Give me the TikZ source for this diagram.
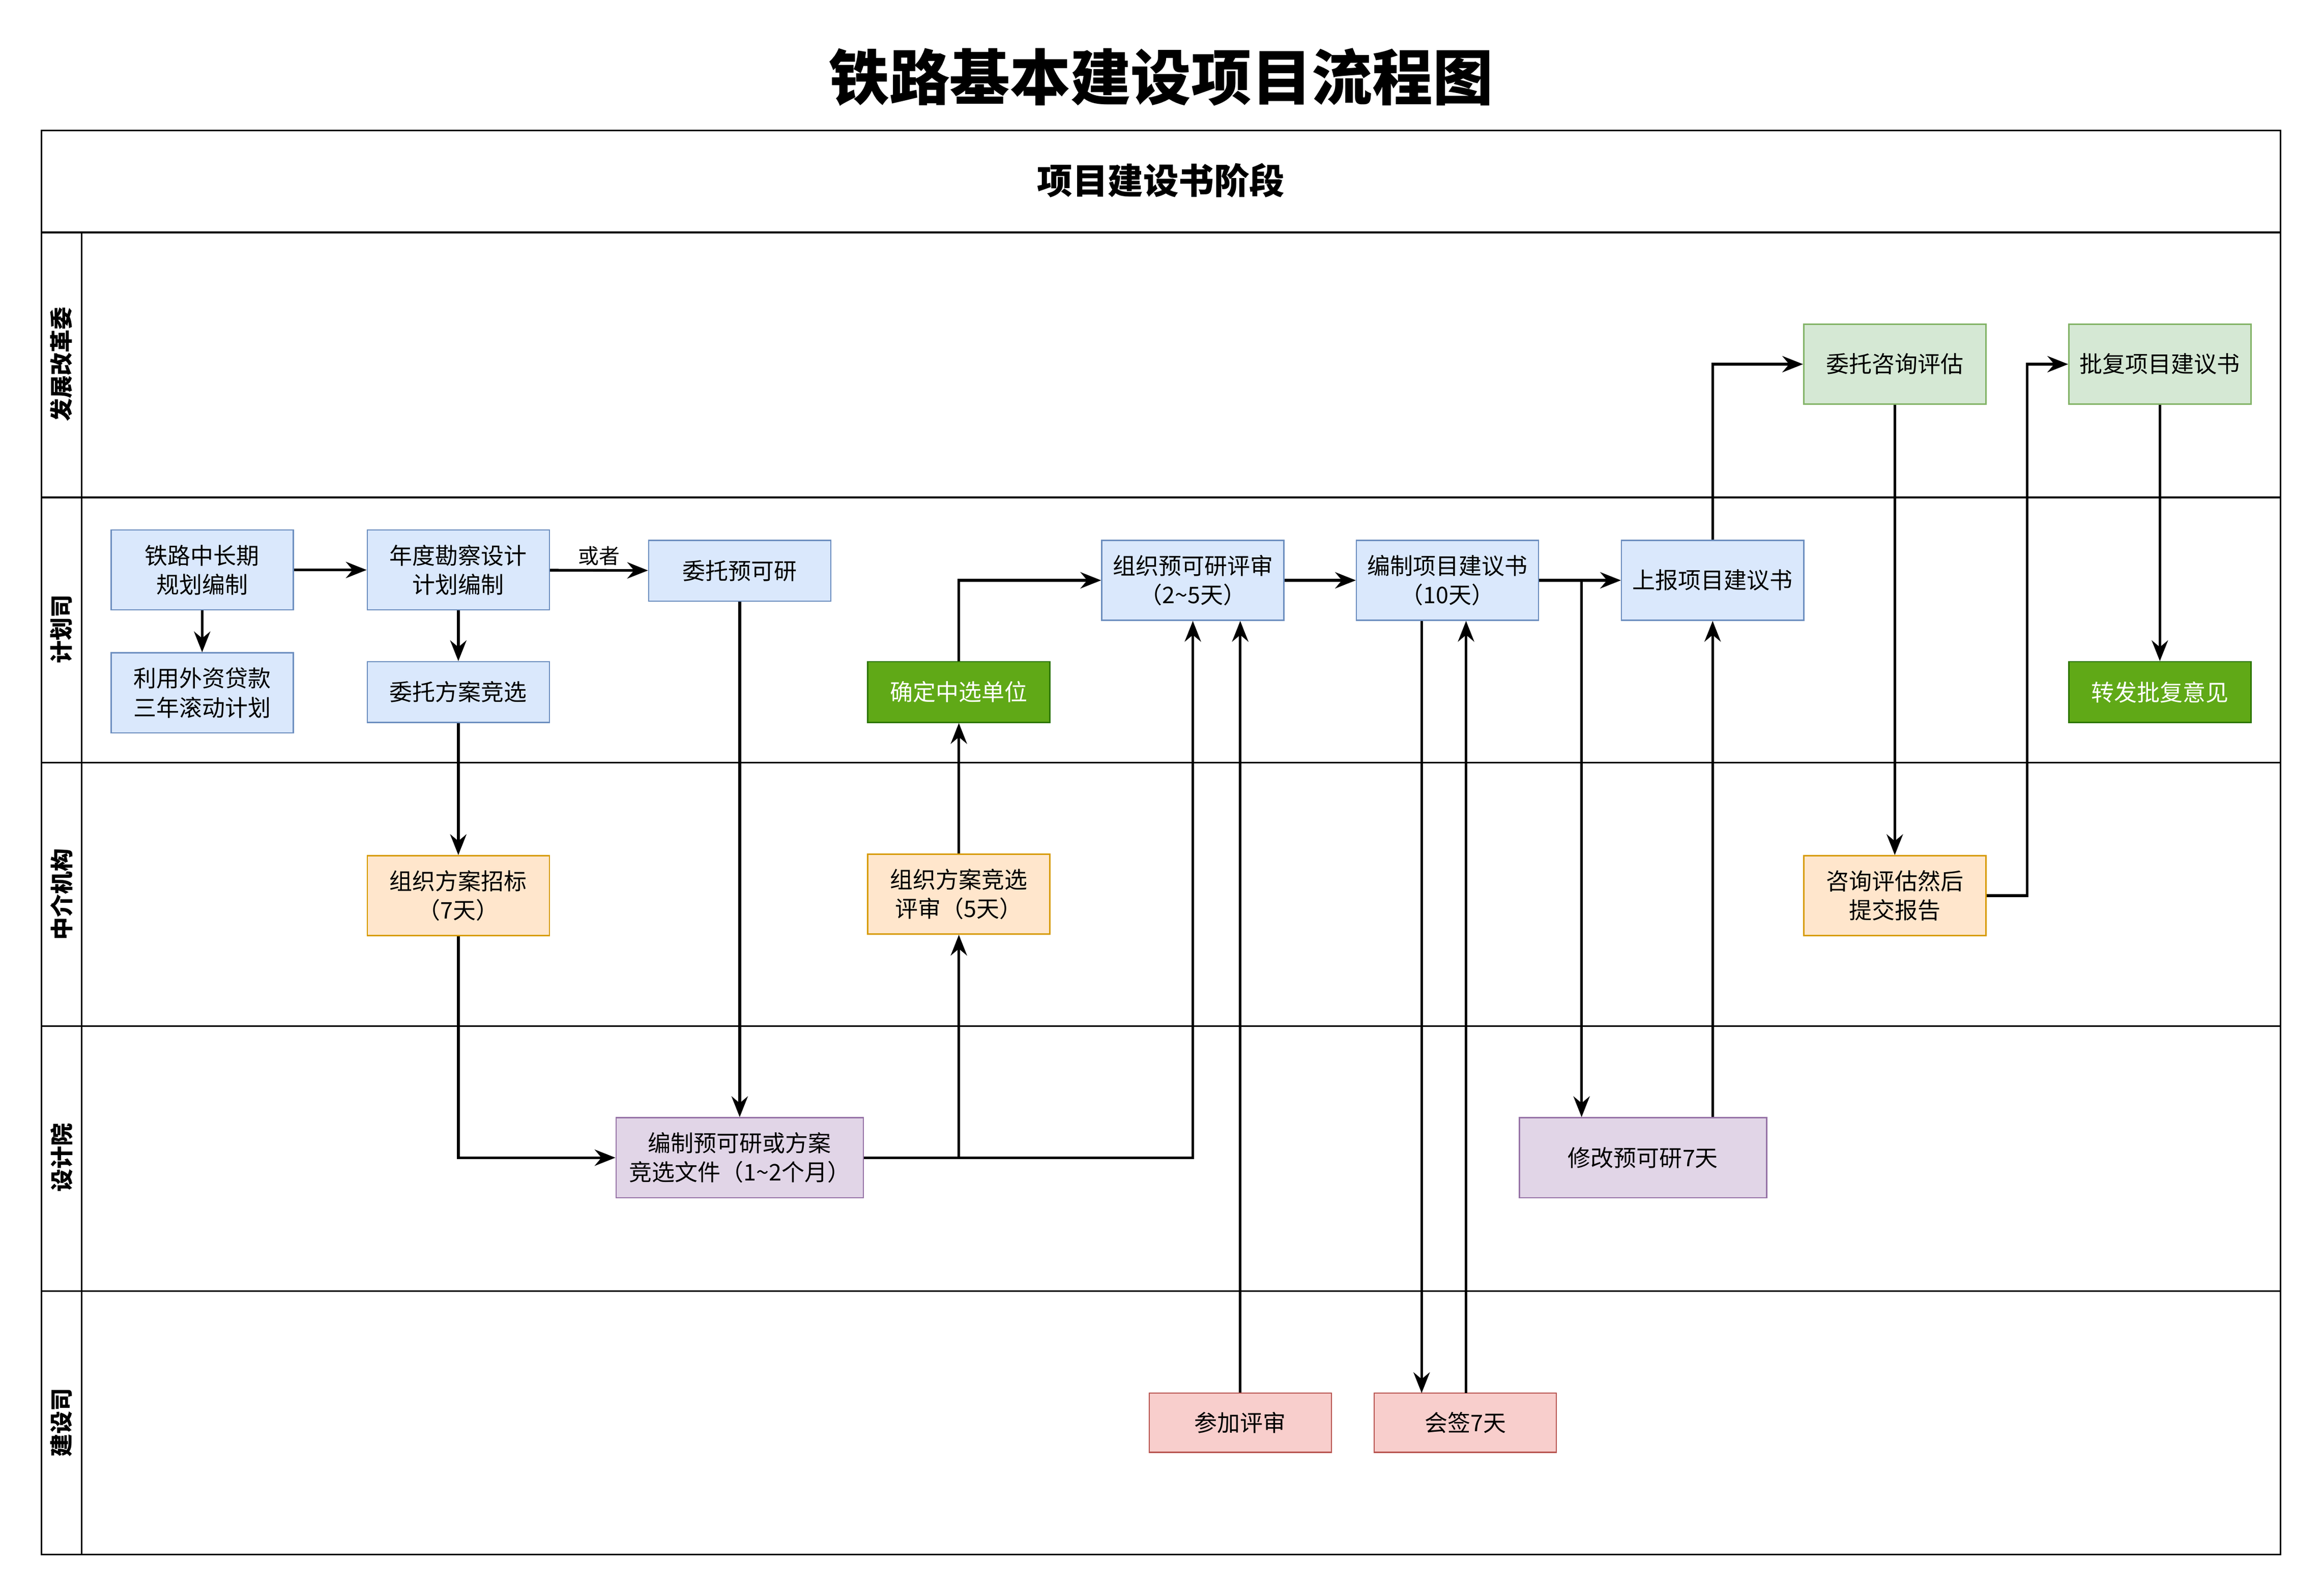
\documentclass[tikz,border=0pt]{standalone}
\usepackage{fontspec}
\setmainfont{Noto Sans CJK SC}
\usetikzlibrary{arrows.meta}
\definecolor{bF}{HTML}{DAE8FC}\definecolor{bS}{HTML}{6C8EBF}
\definecolor{oF}{HTML}{FFE6CC}\definecolor{oS}{HTML}{D79B00}
\definecolor{pF}{HTML}{E1D5E7}\definecolor{pS}{HTML}{9673A6}
\definecolor{gF}{HTML}{D5E8D4}\definecolor{gS}{HTML}{82B366}
\definecolor{dF}{HTML}{60A917}\definecolor{dS}{HTML}{2D7600}
\definecolor{rF}{HTML}{F8CECC}\definecolor{rS}{HTML}{B85450}
\tikzset{
 box/.style={draw, line width=1.2pt, minimum width=61.5mm, minimum height=27mm, align=center, inner sep=1mm, font=\fontsize{22}{28}\selectfont},
 blue/.style={box, fill=bF, draw=bS},
 orange/.style={box, fill=oF, draw=oS},
 purple/.style={box, fill=pF, draw=pS, minimum width=83.5mm},
 lg/.style={box, fill=gF, draw=gS},
 dg/.style={box, fill=dF, draw=dS, text=white},
 red/.style={box, fill=rF, draw=rS, minimum height=20mm},
 short/.style={minimum height=20.5mm},
 ar/.style={line width=2.6pt, -{Stealth[length=7mm,width=5.5mm]}},
 frame/.style={line width=1.5pt},
 lane/.style={font=\bfseries\fontsize{22}{26}\selectfont, rotate=90}
}
\begin{document}
\begin{tikzpicture}[x=0.5mm,y=-0.5mm]
\useasboundingbox[fill=white] (0,0) rectangle (1568,1078);
\node[font=\bfseries\fontsize{58}{64}\selectfont] (title) at (784,52) {铁路基本建设项目流程图};
\draw[frame] (28,88) rectangle (1540,1050);
\draw[frame] (28,157) -- (1540,157);
\node[font=\bfseries\fontsize{34}{40}\selectfont] (hdr) at (784,122) {项目建设书阶段};
\foreach \y in {336,515,693,872} \draw[frame] (28,\y) -- (1540,\y);
\draw[frame] (55,157) -- (55,1050);
\node[lane] (l1) at (41.5,246) {发展改革委};
\node[lane] (l2) at (41.5,425) {计划司};
\node[lane] (l3) at (41.5,604) {中介机构};
\node[lane] (l4) at (41.5,782) {设计院};
\node[lane] (l5) at (41.5,961) {建设司};

\node[blue] (a1) at (136.5,385) {铁路中长期\\规划编制};
\node[blue] (a2) at (136.5,468) {利用外资贷款\\三年滚动计划};
\node[blue] (y) at (309.5,385) {年度勘察设计\\计划编制};
\node[blue,short] (wf) at (309.5,467.5) {委托方案竞选};
\node[blue,short] (wy) at (499.5,385.5) {委托预可研};
\node[orange] (zz) at (309.5,605) {组织方案招标\\（7天）};
\node[purple] (bz) at (499.5,782) {编制预可研或方案\\竞选文件（1\textasciitilde2个月）};
\node[orange] (ps) at (647.5,604) {组织方案竞选\\评审（5天）};
\node[dg,short] (qd) at (647.5,467.5) {确定中选单位};
\node[blue] (zp) at (805.5,392) {组织预可研评审\\（2\textasciitilde5天）};
\node[blue] (bx) at (977.5,392) {编制项目建议书\\（10天）};
\node[blue] (sb) at (1156.5,392) {上报项目建议书};
\node[lg] (wz) at (1279.5,246) {委托咨询评估};
\node[lg] (pf) at (1458.5,246) {批复项目建议书};
\node[dg,short] (zf) at (1458.5,467.5) {转发批复意见};
\node[orange] (zx) at (1279.5,605) {咨询评估然后\\提交报告};
\node[purple] (xg) at (1109.5,782) {修改预可研7天};
\node[red] (cj) at (837.5,961) {参加评审};
\node[red] (hq) at (989.5,961) {会签7天};

\draw[ar] (a1) -- (a2);
\draw[ar] (a1) -- (y);
\draw[ar] (y) -- (wf);
\draw[ar] (y) -- node[above, font=\fontsize{20}{24}\selectfont]{或者} (wy);
\draw[ar] (wf) -- (zz);
\draw[ar] (zz.south) |- (bz.west);
\draw[ar] (wy) -- (bz);
\draw[ar] (bz.east) -| (ps.south);
\draw[ar] (bz.east) -| (zp.south);
\draw[ar] (ps) -- (qd);
\draw[ar] (qd.north) |- (zp.west);
\draw[ar] (cj.north) -- (cj.north |- zp.south);
\draw[ar] (zp) -- (bx);
\coordinate (hqa) at (960,941);
\coordinate (hqb) at (990,941);
\draw[ar] (hqa |- bx.south) -- (hqa);
\draw[ar] (hqb) -- (hqb |- bx.south);
\draw[ar] (bx) -- (sb);
\coordinate (sp) at (1068,392);
\draw[ar] (sp) -- (sp |- xg.north);
\draw[ar] (sb.south |- xg.north) -- (sb.south);
\draw[ar] (sb.north) |- (wz.west);
\draw[ar] (wz) -- (zx);
\coordinate (tz) at (1369,605);
\draw[ar] (zx.east) -- (tz) |- (pf.west);
\draw[ar] (pf) -- (zf);
\end{tikzpicture}
\end{document}
